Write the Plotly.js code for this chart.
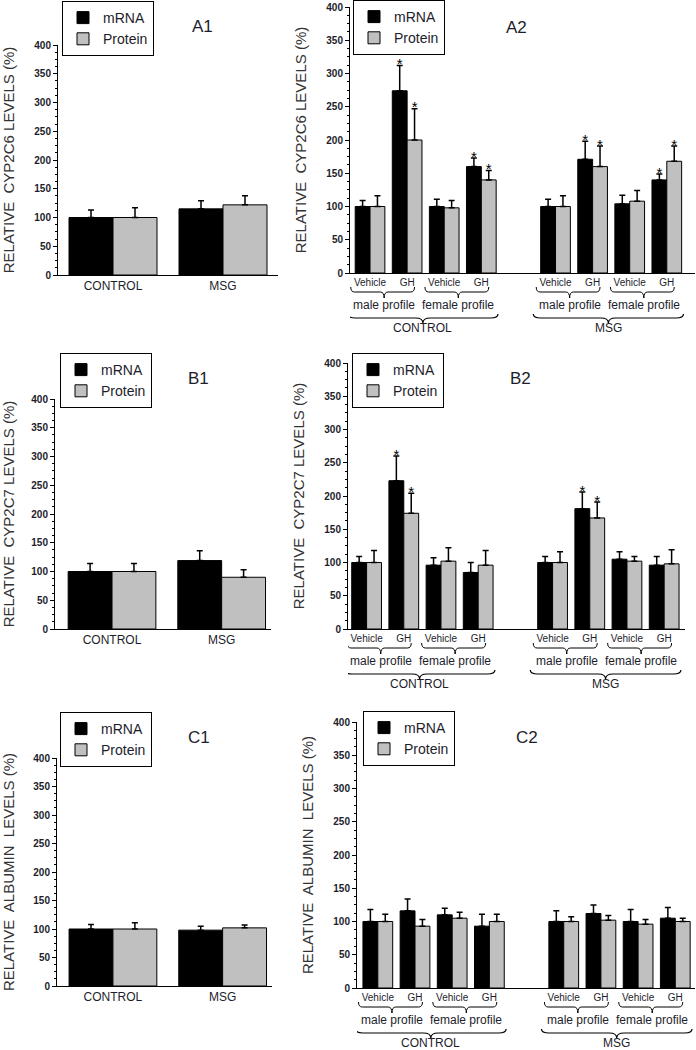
<!DOCTYPE html>
<html>
<head>
<meta charset="utf-8">
<script src="https://cdn.plot.ly/plotly-3.0.1.min.js"></script>
<style>
  html, body { margin: 0; padding: 0; background: #fff; }
  #graph { width: 696px; height: 1050px; }
</style>
</head>
<body>
<div id="graph"></div>
<script>
// categories / tick labels
const simpleCats = ["CONTROL", "MSG"];
const simplePos = [0, 1];
const pairPos = [0, 1, 2, 3, 5, 6, 7, 8];
const pairTicks = ["Vehicle", "GH", "Vehicle", "GH", "Vehicle", "GH", "Vehicle", "GH"];
const profileNames = ["male profile", "female profile", "male profile", "female profile"];
const treatNames = ["CONTROL", "MSG"];

// A1 - CYP2C6, untreated
const a1Mrna = [100, 115];
const a1MrnaErr = [13, 14];
const a1Prot = [100, 122];
const a1ProtErr = [17, 16];

// A2 - CYP2C6, GH profiles
const a2Mrna = [100, 274, 100, 160, 100, 171, 104, 140];
const a2MrnaErr = [9, 38, 11, 13, 11, 27, 13, 9];
const a2Prot = [100, 200, 98, 140, 100, 160, 108, 168];
const a2ProtErr = [16, 47, 11, 14, 16, 31, 16, 23];
const a2MrnaStar = [0, 1, 0, 1, 0, 1, 0, 1];
const a2ProtStar = [0, 1, 0, 1, 0, 1, 0, 1];

// B1 - CYP2C7, untreated
const b1Mrna = [100, 119];
const b1MrnaErr = [14, 17];
const b1Prot = [100, 90];
const b1ProtErr = [14, 13];

// B2 - CYP2C7, GH profiles
const b2Mrna = [100, 223, 96, 85, 100, 181, 105, 96];
const b2MrnaErr = [9, 37, 11, 15, 9, 25, 11, 13];
const b2Prot = [100, 174, 102, 96, 100, 167, 102, 98];
const b2ProtErr = [18, 30, 20, 22, 16, 24, 7, 21];
const b2MrnaStar = [0, 1, 0, 0, 0, 1, 0, 0];
const b2ProtStar = [0, 1, 0, 0, 0, 1, 0, 0];

// C1 - albumin, untreated
const c1Mrna = [100, 98];
const c1MrnaErr = [8, 7];
const c1Prot = [100, 102];
const c1ProtErr = [11, 5];

// C2 - albumin, GH profiles
const c2Mrna = [100, 116, 110, 93, 100, 112, 100, 105];
const c2MrnaErr = [18, 18, 10, 18, 16, 13, 18, 16];
const c2Prot = [100, 93, 105, 100, 100, 102, 96, 100];
const c2ProtErr = [11, 10, 9, 11, 7, 7, 7, 5];
const c2MrnaStar = [0, 0, 0, 0, 0, 0, 0, 0];
const c2ProtStar = [0, 0, 0, 0, 0, 0, 0, 0];

const W = 696;
const H = 1050;
const FONT = "Arial, 'Liberation Sans', sans-serif";
const INK = "#1d1d2b";
const GREY = "#c0c0c0";

// page placement of each panel, in pixels: [left, right, top, bottom]
const panels = [
  { tag: "A1", wide: false, mrna: a1Mrna, mErr: a1MrnaErr, prot: a1Prot, pErr: a1ProtErr,
    ytitle: "RELATIVE\u00a0 CYP2C6 LEVELS (%)", box: [58, 278, 45, 275], xr: [-0.5, 1.5], leg: [62, 1], lab: [202, 27] },
  { tag: "A2", wide: true, mrna: a2Mrna, mErr: a2MrnaErr, prot: a2Prot, pErr: a2ProtErr, mStar: a2MrnaStar, pStar: a2ProtStar,
    ytitle: "RELATIVE\u00a0 CYP2C6 LEVELS (%)", box: [350, 695, 7, 273], xr: [-0.54, 8.76], leg: [353, 0], lab: [516, 28] },
  { tag: "B1", wide: false, mrna: b1Mrna, mErr: b1MrnaErr, prot: b1Prot, pErr: b1ProtErr,
    ytitle: "RELATIVE\u00a0 CYP2C7 LEVELS (%)", box: [55, 271, 399, 629], xr: [-0.52, 1.45], leg: [60, 353], lab: [198, 378] },
  { tag: "B2", wide: true, mrna: b2Mrna, mErr: b2MrnaErr, prot: b2Prot, pErr: b2ProtErr, mStar: b2MrnaStar, pStar: b2ProtStar,
    ytitle: "RELATIVE\u00a0 CYP2C7 LEVELS (%)", box: [348, 685, 363, 629], xr: [-0.5, 8.56], leg: [352, 353], lab: [520, 378] },
  { tag: "C1", wide: false, mrna: c1Mrna, mErr: c1MrnaErr, prot: c1Prot, pErr: c1ProtErr,
    ytitle: "RELATIVE\u00a0 ALBUMIN\u00a0 LEVELS (%)", box: [57, 272, 758, 986], xr: [-0.51, 1.45], leg: [60, 712], lab: [199, 737] },
  { tag: "C2", wide: true, mrna: c2Mrna, mErr: c2MrnaErr, prot: c2Prot, pErr: c2ProtErr, mStar: c2MrnaStar, pStar: c2ProtStar,
    ytitle: "RELATIVE\u00a0 ALBUMIN\u00a0 LEVELS (%)", box: [357, 695, 722, 988], xr: [-0.56, 8.53], leg: [363, 711], lab: [527, 737] },
];

function px(x) { return x / W; }
function py(y) { return 1 - y / H; }

// curly brace opening upward, in x data units and paper y
function bracePath(x0, x1, xm, yEnd, yBar, yTip) {
  const d = Math.min(0.2, (x1 - x0) * 0.06);
  return `M${x0},${yEnd} Q${x0},${yBar} ${x0 + d},${yBar} L${xm - d},${yBar} ` +
    `Q${xm},${yBar} ${xm},${yTip} Q${xm},${yBar} ${xm + d},${yBar} ` +
    `L${x1 - d},${yBar} Q${x1},${yBar} ${x1},${yEnd}`;
}

let data = [];
let layout = {
  width: W,
  height: H,
  margin: { l: 0, r: 0, t: 0, b: 0 },
  paper_bgcolor: "white",
  plot_bgcolor: "white",
  barmode: "group",
  bargap: 0.2,
  bargroupgap: 0,
  font: { family: FONT, color: INK },
  showlegend: true,
  annotations: [],
  shapes: [],
};

panels.forEach((p, i) => {
  const s = i === 0 ? "" : String(i + 1);
  const xa = "x" + s;
  const ya = "y" + s;
  const legId = i === 0 ? "legend" : "legend" + (i + 1);
  const pos = p.wide ? pairPos : simplePos;

  data.push({
    type: "bar", name: "mRNA", x: pos, y: p.mrna, xaxis: xa, yaxis: ya, legend: legId,
    marker: { color: "black", line: { color: "black", width: 1 } },
    error_y: { type: "data", symmetric: false, array: p.mErr, arrayminus: p.mErr.map(() => 0),
      color: "black", thickness: 1.5, width: 3 },
    hoverinfo: "y",
  });
  data.push({
    type: "bar", name: "Protein", x: pos, y: p.prot, xaxis: xa, yaxis: ya, legend: legId,
    marker: { color: GREY, line: { color: "black", width: 1 } },
    error_y: { type: "data", symmetric: false, array: p.pErr, arrayminus: p.pErr.map(() => 0),
      color: "black", thickness: 1.5, width: 3 },
    hoverinfo: "y",
  });

  if (p.wide) {
    // significance stars above the error bars
    let sx = [];
    let sy = [];
    pos.forEach((x, k) => {
      if (p.mStar[k]) { sx.push(x - 0.2); sy.push(p.mrna[k] + p.mErr[k]); }
      if (p.pStar[k]) { sx.push(x + 0.2); sy.push(p.prot[k] + p.pErr[k]); }
    });
    if (sx.length) {
      data.push({
        type: "scatter", mode: "text", x: sx, y: sy, text: sx.map(() => "*"),
        textposition: "middle center", textfont: { size: 15, color: "black", family: FONT },
        xaxis: xa, yaxis: ya, showlegend: false, hoverinfo: "skip", cliponaxis: false,
      });
    }
  }

  const [l, r, t, b] = p.box;
  layout["xaxis" + s] = {
    domain: [px(l), px(r)],
    anchor: ya,
    range: p.xr,
    showline: true, linecolor: "black", linewidth: 1,
    showgrid: false, zeroline: false,
    ticks: "",
    tickvals: pos,
    ticktext: p.wide ? pairTicks : simpleCats,
    tickfont: { size: p.wide ? 10 : 12, color: INK, family: FONT },
    fixedrange: true,
  };
  layout["yaxis" + s] = {
    domain: [py(b), py(t)],
    anchor: xa,
    range: [0, 400],
    dtick: 50,
    showline: true, linecolor: "black", linewidth: 1,
    showgrid: false, zeroline: false,
    ticks: "outside", ticklen: 4, tickcolor: "black",
    minor: { dtick: 12.5, ticks: "outside", ticklen: 2, tickcolor: "black" },
    tickfont: { size: 10, color: INK, family: FONT, weight: "bold" },
    title: { text: p.ytitle, font: { size: 15, color: "#333", family: FONT }, standoff: 16 },
    fixedrange: true,
  };

  layout[legId] = {
    x: px(p.leg[0]), y: py(p.leg[1]), xanchor: "left", yanchor: "top",
    bgcolor: "white", bordercolor: "black", borderwidth: 1,
    font: { size: 14, color: INK, family: FONT },
    itemclick: false, itemdoubleclick: false,
  };

  layout.annotations.push({
    xref: "paper", yref: "paper", x: px(p.lab[0]), y: py(p.lab[1]),
    text: p.tag, showarrow: false, xanchor: "center", yanchor: "middle",
    font: { size: 17, color: INK, family: FONT },
  });

  if (p.wide) {
    // brace layers below the axis, offsets in px from the axis line
    const pairStarts = [0, 2, 5, 7];
    pairStarts.forEach((p0, k) => {
      const p1 = pos[pos.indexOf(p0) + 1];
      const mid = (p0 + p1) / 2 - 0.12;
      layout.shapes.push({
        type: "path", xref: xa, yref: "paper",
        path: bracePath(p0 - 0.52, p1 + 0.2, mid, py(b + 14), py(b + 19), py(b + 25)),
        line: { color: "black", width: 1 },
      });
      layout.annotations.push({
        xref: xa, yref: "paper", x: mid, y: py(b + 32), text: profileNames[k],
        showarrow: false, xanchor: "center", yanchor: "middle", borderpad: 0,
        font: { size: 12, color: INK, family: FONT },
      });
    });
    const treatGroups = [[0, 1, 2, 3], [5, 6, 7, 8]];
    treatGroups.forEach((g, k) => {
      const x0 = Math.min(...g) - 0.6;
      const x1 = Math.max(...g) + 0.45;
      const mid = (x0 + x1) / 2;
      layout.shapes.push({
        type: "path", xref: xa, yref: "paper",
        path: bracePath(x0, x1, mid, py(b + 41), py(b + 45), py(b + 50)),
        line: { color: "black", width: 1.2 },
      });
      layout.annotations.push({
        xref: xa, yref: "paper", x: mid, y: py(b + 55), text: treatNames[k],
        showarrow: false, xanchor: "center", yanchor: "middle", borderpad: 0,
        font: { size: 12, color: INK, family: FONT },
      });
    });
  }
});

let configuration = { displayModeBar: false, staticPlot: true };

Plotly.newPlot("graph", data, layout, configuration);
</script>
</body>
</html>
